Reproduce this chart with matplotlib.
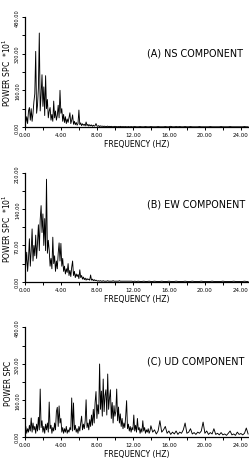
import numpy as np
import matplotlib
matplotlib.use("Agg")
import matplotlib.pyplot as plt

# power spectra (units of the y axis)
# dense part sampled every 0.1 Hz from 0 Hz, tail every 0.2 Hz
ns_low = [5, 20, 45, 15, 70, 85, 30, 80, 25, 60,
          110, 145, 330, 60, 95, 170, 410, 70, 140, 228,
          90, 175, 50, 224, 80, 120, 40, 70, 85, 30,
          55, 25, 113, 40, 70, 30, 50, 95, 40, 160,
          60, 80, 25, 55, 20, 45, 15, 35, 20, 40,
          62, 15, 30, 53, 12, 25, 10, 20, 8, 15,
          74, 10, 18, 6, 14, 8, 12, 5, 22, 6,
          12, 4, 10, 5, 9, 3, 8, 4, 6, 15,
          5, 3, 6, 2, 5, 3, 4, 2, 4, 2,
          3, 2, 4, 1, 3, 2, 3, 1, 2, 1,
          3, 1, 2, 1, 2, 1, 3, 1, 2, 1,
          2, 1, 2, 1, 1, 2, 1, 1, 2, 1]
ns_high = [1, 2, 1, 1, 2, 1, 1, 2, 1, 1,
           2, 1, 1, 1, 2, 1, 1, 1, 2, 1,
           1, 3, 1, 1, 2, 1, 2, 1, 1, 2,
           1, 1, 2, 1, 1, 1, 1, 2, 1, 1,
           1, 1, 1, 2, 1, 1, 1, 1, 1, 2,
           1, 1, 1, 1, 2, 1, 1, 1, 1, 1,
           1, 1, 2, 1, 1]

ew_low = [10, 35, 57, 20, 45, 83, 30, 60, 102, 40,
          70, 50, 90, 45, 75, 110, 60, 120, 147, 95,
          131, 70, 122, 60, 198, 55, 80, 61, 30, 45,
          25, 86, 35, 50, 20, 40, 25, 55, 75, 40,
          74, 30, 45, 20, 30, 15, 25, 18, 35, 12,
          22, 10, 28, 40, 12, 20, 8, 15, 10, 14,
          6, 23, 8, 12, 5, 9, 4, 7, 3, 6,
          4, 5, 3, 13, 3, 5, 2, 4, 2, 3,
          2, 1, 2, 1, 2, 1, 1, 2, 1, 1,
          1, 1, 2, 1, 1, 1, 1, 1, 2, 1,
          1, 1, 1, 1, 1, 2, 1, 1, 1, 1,
          1, 1, 1, 1, 1, 1, 1, 1, 1, 1]
ew_high = [0.5, 1, 0.5, 1, 0.5, 0.5, 1, 0.5, 0.5, 1,
           0.5, 0.5, 1, 0.5, 0.5, 0.5, 1, 0.5, 0.5, 0.5,
           1, 0.5, 0.5, 0.5, 1, 0.5, 0.5, 0.5, 0.5, 1,
           0.5, 0.5, 0.5, 1, 0.5, 0.5, 0.5, 0.5, 1, 0.5,
           0.5, 0.5, 0.5, 0.5, 1, 0.5, 0.5, 0.5, 0.5, 0.5,
           1, 0.5, 0.5, 0.5, 0.5, 0.5, 1, 0.5, 0.5, 0.5,
           0.5, 0.5, 1, 0.5, 0.5]

ud_low = [10, 45, 15, 35, 20, 50, 25, 82, 20, 60,
          30, 45, 15, 55, 25, 85, 30, 209, 40, 70,
          20, 45, 15, 55, 30, 60, 20, 152, 35, 50,
          15, 40, 25, 60, 30, 110, 129, 45, 135, 60,
          80, 20, 40, 15, 35, 20, 45, 15, 30, 20,
          40, 30, 170, 25, 148, 30, 50, 20, 35, 15,
          45, 25, 60, 90, 30, 55, 35, 70, 162, 40,
          60, 30, 75, 45, 95, 50, 120, 60, 150, 198,
          80, 140, 100, 319, 120, 200, 90, 253, 110, 180,
          206, 95, 275, 120, 170, 206, 80, 150, 60, 136,
          90, 110, 209, 70, 130, 60, 100, 45, 80, 35,
          60, 40, 90, 158, 35, 55, 25, 45, 20, 40,
          30, 95, 25, 50, 20, 80, 30, 40, 15, 35,
          20, 70, 25, 40, 15, 30, 20, 35, 15, 25]
ud_high = [48, 20, 30, 12, 25, 70, 20, 30, 45, 15,
           25, 10, 20, 12, 25, 10, 20, 15, 30, 60,
           15, 20, 35, 12, 18, 10, 20, 15, 25, 64,
           15, 25, 10, 18, 12, 35, 10, 15, 8, 18,
           8, 12, 6, 15, 25, 8, 12, 6, 20, 10,
           14, 8, 15, 38, 12]

titles = ["(A) NS COMPONENT", "(B) EW COMPONENT", "(C) UD COMPONENT"]
ylabels = ["POWER SPC  *10$^{1}$", "POWER SPC  *10$^{1}$", "POWER SPC"]
ymax = [480, 210, 480]


def spectrum(low, high):
    f_low = 0.1 * np.arange(len(low))
    f_high = f_low[-1] + 0.1 + 0.2 * np.arange(len(high))
    return np.concatenate([f_low, f_high]), np.concatenate([low, high])


fig = plt.figure(figsize=(2.49, 4.60), dpi=100)
rects = [[0.100, 0.7217, 0.90, 0.2392],
         [0.100, 0.3854, 0.90, 0.2363],
         [0.100, 0.0485, 0.90, 0.2378]]
data = [(ns_low, ns_high), (ew_low, ew_high), (ud_low, ud_high)]
title_y = [0.68, 0.715, 0.695]

for i in range(3):
    ax = fig.add_axes(rects[i])
    f, p = spectrum(*data[i])
    ax.plot(f, p, color='black', lw=0.65)
    ax.set_xlim(0, 24.9)
    ax.set_ylim(0, ymax[i])
    for s in ['top', 'right']:
        ax.spines[s].set_visible(False)
    for s in ['left', 'bottom']:
        ax.spines[s].set_linewidth(0.9)

    xt = np.arange(0, 25, 2)
    ax.set_xticks(xt)
    ax.set_xticklabels([f"{v:.2f}" if v % 4 == 0 else "" for v in xt], fontsize=4)
    step = ymax[i] / 6
    yt = step * np.arange(7)
    ax.set_yticks(yt)
    ax.set_yticklabels([f"{v:.2f}" if k % 2 == 0 else "" for k, v in enumerate(yt)],
                       fontsize=3.6, rotation=90, va='center')
    ax.tick_params(length=2, width=0.7, pad=1.5)

    ax.set_xlabel("FREQUENCY (HZ)", fontsize=5.5, labelpad=1.5)
    ax.set_ylabel(ylabels[i], fontsize=5.5, labelpad=1.5)
    ax.text(0.545, title_y[i], titles[i], transform=ax.transAxes,
            fontsize=6.9, va='center', ha='left')

fig.savefig("out.png", dpi=100)
